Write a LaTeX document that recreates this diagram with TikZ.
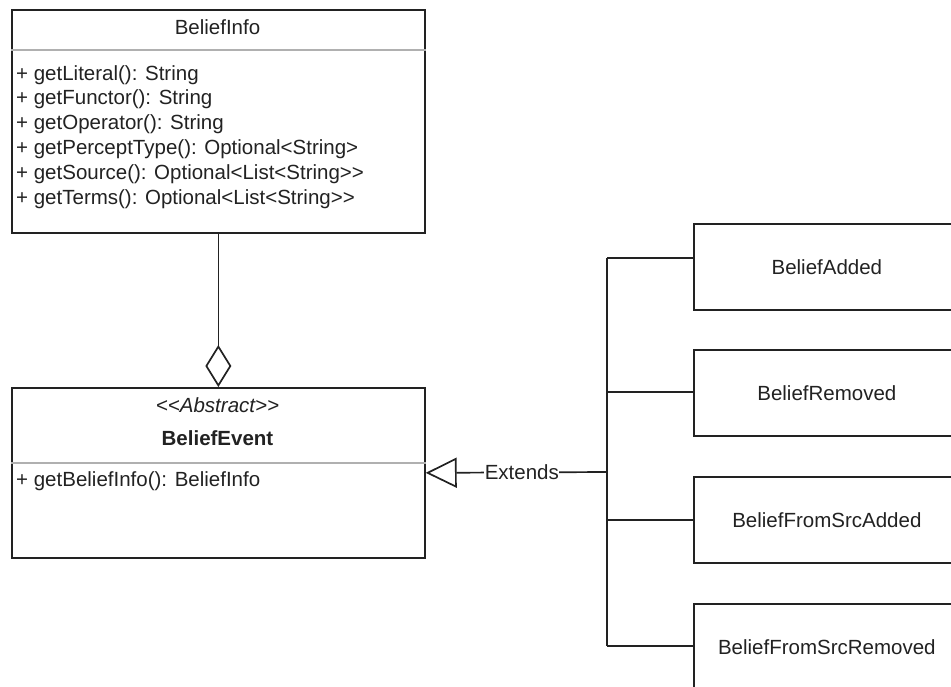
\documentclass[tikz,border=0pt]{standalone}
\usepackage{fontspec}
\setmainfont{Liberation Sans}
\usetikzlibrary{arrows.meta,calc}
\definecolor{ink}{HTML}{222222}
\definecolor{sepgray}{HTML}{B0B0B0}
\begin{document}
\begin{tikzpicture}[x=1pt,y=-1pt,
  umlbox/.style={draw=ink, line width=1.7pt, anchor=north west, inner sep=0pt, fill=white},
  txt/.style={text=ink, inner sep=0pt, font=\fontsize{20.5}{24}\selectfont},
  sepline/.style={draw=sepgray, line width=1.2pt},
  wire/.style={draw=ink, line width=1.7pt},
]
\useasboundingbox[fill=white] (0,0) rectangle (951,686);

% class boxes
\node[umlbox, minimum width=413pt, minimum height=223pt] (binfo) at (11,9) {};
\node[umlbox, minimum width=413pt, minimum height=170pt] (bevent) at (11,387) {};

% subclasses on the right
\node[umlbox, minimum width=266pt, minimum height=86pt, anchor=north west, txt] (badd) at (693,223) {BeliefAdded};
\node[umlbox, minimum width=266pt, minimum height=86pt, anchor=north west, txt] (brem) at (693,349) {BeliefRemoved};
\node[umlbox, minimum width=266pt, minimum height=86pt, anchor=north west, txt] (bfsa) at (693,476) {BeliefFromSrcAdded};
\node[umlbox, minimum width=266pt, minimum height=86pt, anchor=north west, txt] (bfsr) at (693,603) {BeliefFromSrcRemoved};

% BeliefInfo contents
\node[txt, anchor=base] (infotitle) at (217.5,34.5) {BeliefInfo};
\draw[sepline] ($(binfo.north west)+(0,41)$) -- ($(binfo.north east)+(0,41)$);
\node[txt, anchor=base west] (m1) at (16,80) {+ getLiteral(): String};
\node[txt, anchor=base west] (m2) at (16,104.8) {+ getFunctor(): String};
\node[txt, anchor=base west] (m3) at (16,129.6) {+ getOperator(): String};
\node[txt, anchor=base west] (m4) at (16,154.4) {+ getPerceptType(): Optional<String>};
\node[txt, anchor=base west] (m5) at (16,179.2) {+ getSource(): Optional<List<String>{}>};
\node[txt, anchor=base west] (m6) at (16,204) {+ getTerms(): Optional<List<String>{}>};

% BeliefEvent contents
\node[txt, anchor=base, font=\fontsize{20.5}{24}\selectfont\itshape] (stereo) at (217.5,412.5) {<{}<Abstract>{}>};
\node[txt, anchor=base, font=\fontsize{20.5}{24}\selectfont\bfseries] (eventtitle) at (217.5,445.5) {BeliefEvent};
\draw[sepline] ($(bevent.north west)+(0,76)$) -- ($(bevent.north east)+(0,76)$);
\node[txt, anchor=base west] (e1) at (16,486.5) {+ getBeliefInfo(): BeliefInfo};

% aggregation
\draw[wire, {Diamond[open, length=42pt, width=26pt, line width=1.7pt]}-] (bevent.north) -- (binfo.south);

% generalization bus
\coordinate (j1) at (607,258);
\coordinate (j2) at (607,392);
\coordinate (jm) at (607,472);
\coordinate (j3) at (607,520);
\coordinate (j4) at (607,646);
\draw[wire] (j1) -- (j4);
\draw[wire] (j1) -- (j1 -| badd.west);
\draw[wire] (j2) -- (j2 -| brem.west);
\draw[wire] (j3) -- (j3 -| bfsa.west);
\draw[wire] (j4) -- (j4 -| bfsr.west);
\draw[wire, -{Triangle[open, length=31pt, width=30pt, line width=1.7pt]}] (jm) -- node[pos=0.47, fill=white, txt, inner sep=0.5pt] (extlabel) {Extends} (bevent.east);
\end{tikzpicture}
\end{document}
